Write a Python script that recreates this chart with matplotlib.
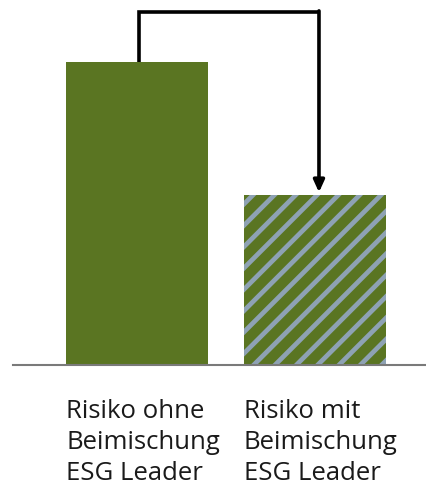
import matplotlib
matplotlib.use("Agg")
import matplotlib.pyplot as plt

categories = ["Risiko ohne\nBeimischung\nESG Leader", "Risiko mit\nBeimischung\nESG Leader"]
values = [100, 56]
arrow_top = 116.5

W, H, DPI = 426, 495, 128
k = 100 / DPI  # keep pixel sizes as designed at 100 dpi

plt.rcParams['font.family'] = ['Open Sans', 'DejaVu Sans']
plt.rcParams['hatch.linewidth'] = 3.4 * k

fig = plt.figure(figsize=(W / DPI, H / DPI), dpi=DPI)
ax = fig.add_axes([13 / W, (H - 365) / H, 413 / W, 365 / H])

green = '#5a7522'
stripe = '#8ea2b4'
x = [0, 1]
ax.bar(x[0], values[0], width=0.8, color=green, edgecolor='none')
ax.bar(x[1], values[1], width=0.8, color=green, edgecolor=stripe, linewidth=0, hatch='//')

ax.set_xlim(-0.699, 1.628)
ax.set_ylim(0, 120.5)

# arrow connector
x0, x1 = x[0] + 0.01, x[1] + 0.025
ax.plot([x0, x0, x1], [values[0], arrow_top, arrow_top], color='black', lw=2.6 * k,
        solid_joinstyle='miter', solid_capstyle='butt')
ax.annotate('', xy=(x1, values[1] + 1.0), xytext=(x1, arrow_top + 0.4),
            arrowprops=dict(arrowstyle='-|>,head_length=0.55,head_width=0.25',
                            color='black', lw=2.6 * k, shrinkA=0, shrinkB=0))

for s in ['top', 'right', 'left']:
    ax.spines[s].set_visible(False)
ax.spines['bottom'].set_color('#7a7a7a')
ax.spines['bottom'].set_linewidth(1.5 * k)
ax.set_yticks([])
ax.set_xticks([])

for xi, lab in zip(x, categories):
    ax.text(xi - 0.4, -0.092, lab, transform=ax.get_xaxis_transform(),
            ha='left', va='top', fontsize=18.5 * k, linespacing=1.33, color='#1a1a1a')

fig.savefig('out.png', dpi=DPI)
